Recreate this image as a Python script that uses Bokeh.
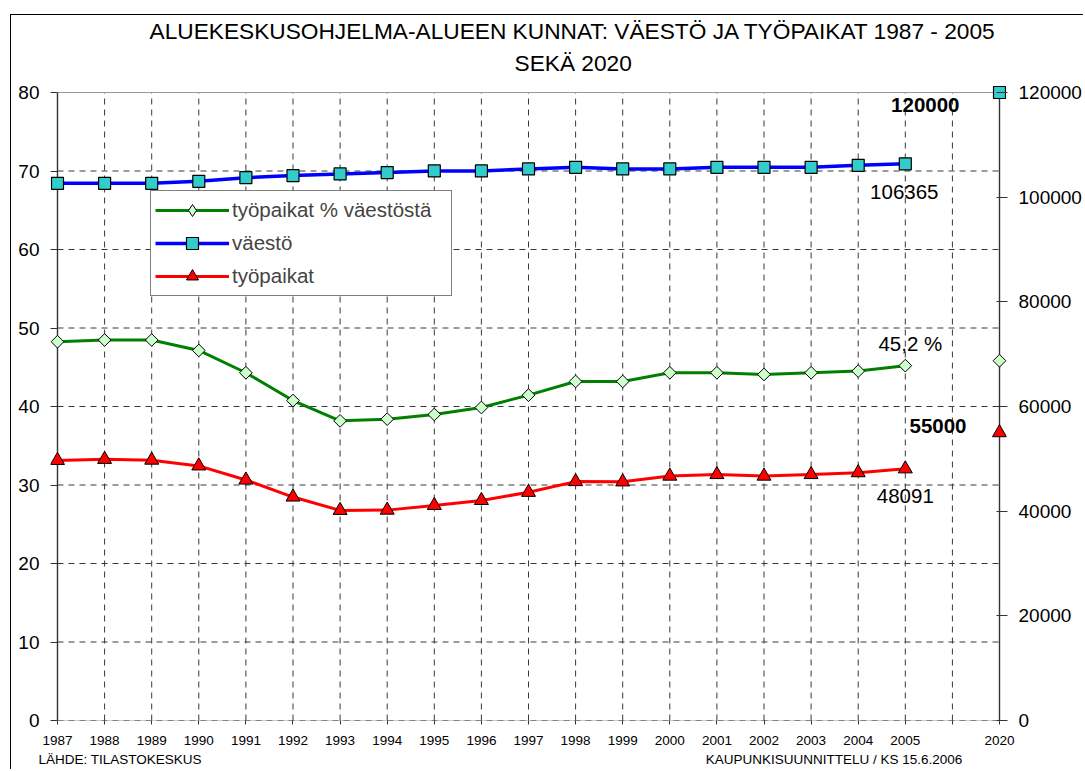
import numpy as np
from bokeh.plotting import figure
from bokeh.models import (Range1d, LinearAxis, FixedTicker, Legend, LegendItem,
                          NumeralTickFormatter, Title)
from bokeh.core.properties import value
from bokeh.embed import file_html
from bokeh.resources import INLINE

# ---------------- data ----------------
years = ["1987", "1988", "1989", "1990", "1991", "1992", "1993", "1994", "1995", "1996",
         "1997", "1998", "1999", "2000", "2001", "2002", "2003", "2004", "2005"]
target_year = "2020"

pop = [102650, 102650, 102650, 103030, 103730, 104120, 104440, 104690, 105020, 105020,
       105400, 105700, 105400, 105400, 105700, 105700, 105700, 106090, 106365]
jobs = [49700, 49900, 49750, 48650, 45950, 42700, 40150, 40200, 41100, 42050,
        43600, 45650, 45600, 46700, 47000, 46700, 47000, 47350, 48091]
jobs_pct = [48.25, 48.47, 48.47, 47.14, 44.3, 40.76, 38.17, 38.39, 38.98, 39.87,
            41.45, 43.19, 43.19, 44.3, 44.3, 44.08, 44.3, 44.51, 45.2]

pop_target = 120000
jobs_target = 55000
pct_target = 45.83

left_ticks = [0, 10, 20, 30, 40, 50, 60, 70, 80]
right_ticks = [0, 20000, 40000, 60000, 80000, 100000, 120000]

title_1 = "ALUEKESKUSOHJELMA-ALUEEN KUNNAT: VÄESTÖ JA TYÖPAIKAT 1987 - 2005"
title_2 = "SEKÄ 2020"
source_left = "LÄHDE: TILASTOKESKUS"
source_right = "KAUPUNKISUUNNITTELU / KS 15.6.2006"

legend_labels = ["työpaikat % väestöstä", "väestö", "työpaikat"]

# ---------------- layout ----------------
W, H = 1073, 755
FL, FR, FT, FB = 39, 996, 70, 705
PAD = 7
FONT = "Liberation Sans"

x_hist = list(range(len(years)))
x_target = len(years) + 1
n_slots = x_target
tick_pos = list(range(n_slots + 1))
tick_labels = years + [""] + [target_year]

ux = ((FR - FL) - 2 * PAD) / n_slots
x_pad = PAD / ux
uy = ((FB - FT) - PAD) / left_ticks[-1]
y_top = left_ticks[-1] + PAD / uy
ratio = right_ticks[-1] / left_ticks[-1]

p = figure(width=W, height=H, output_backend="svg", toolbar_location=None,
           x_range=Range1d(-x_pad, n_slots + x_pad), y_range=Range1d(0, y_top),
           min_border_left=FL, min_border_right=W - FR,
           min_border_top=FT, min_border_bottom=H - FB)
p.extra_y_ranges = {"right": Range1d(0, y_top * ratio)}
p.outline_line_color = None
p.background_fill_color = "white"
p.border_fill_color = "white"
p.xgrid.visible = False
p.ygrid.visible = False
p.styles = {"margin-left": "10px", "margin-top": "14px",
            "border-left": "1px solid black", "border-top": "1px solid black"}

AX_COL = "#333333"
GRID_COL = "#3a3a3a"
EDGE_COL = "#9a9a9a"

x_first, x_last = tick_pos[0], tick_pos[-1]
y_first, y_last = left_ticks[0], left_ticks[-1]

# base line (gray), gridlines (dashed), plot-area top border, axis lines
p.segment(x0=[x_first], y0=[y_first], x1=[x_last], y1=[y_first],
          line_color=EDGE_COL, line_width=1.2)
inner_x = tick_pos[1:-1]
p.segment(x0=inner_x, y0=[y_first] * len(inner_x), x1=inner_x, y1=[y_last] * len(inner_x),
          line_color=GRID_COL, line_width=1, line_dash="6 5")
grid_y = left_ticks[:-1]
p.segment(x0=[x_first] * len(grid_y), y0=grid_y, x1=[x_last] * len(grid_y), y1=grid_y,
          line_color=GRID_COL, line_width=1, line_dash="6 5")
p.segment(x0=[x_first], y0=[y_last], x1=[x_last], y1=[y_last],
          line_color=EDGE_COL, line_width=1.2)
p.segment(x0=[x_first, x_last], y0=[y_first] * 2, x1=[x_first, x_last], y1=[y_last] * 2,
          line_color=AX_COL, line_width=1.4)

# axes
yl = p.yaxis[0]
yl.ticker = FixedTicker(ticks=left_ticks)
yl.axis_line_color = None
yl.major_tick_in = PAD
yl.major_tick_out = 0
yl.minor_tick_line_color = None
yl.major_tick_line_color = AX_COL
yl.major_label_standoff = 11
yl.major_label_text_font = FONT
yl.major_label_text_font_size = "19px"
yl.major_label_text_color = "black"

yr = LinearAxis(y_range_name="right", ticker=FixedTicker(ticks=right_ticks),
                formatter=NumeralTickFormatter(format="0"))
yr.axis_line_color = None
yr.major_tick_in = 10
yr.major_tick_out = 1
yr.minor_tick_line_color = None
yr.major_tick_line_color = AX_COL
yr.major_label_standoff = 11
yr.major_label_text_font = FONT
yr.major_label_text_font_size = "19px"
yr.major_label_text_color = "black"
p.add_layout(yr, "right")

xa = p.xaxis[0]
xa.ticker = FixedTicker(ticks=tick_pos)
xa.major_label_overrides = {i: lab for i, lab in zip(tick_pos, tick_labels)}
xa.axis_line_color = None
xa.major_tick_in = 0
xa.major_tick_out = 4
xa.minor_tick_line_color = None
xa.major_tick_line_color = AX_COL
xa.major_label_standoff = 11
xa.major_label_text_font = FONT
xa.major_label_text_font_size = "13.5px"
xa.major_label_text_color = "black"

# footer line as an unadorned second axis below (source notes)
FOOT_SIZE = 13.5
foot_left_px = 38 + 0.5 * 12.115 * FOOT_SIZE       # text centre in page px
foot_right_px = 706 + 0.5 * 19.006 * FOOT_SIZE
x0_px = 11 + FL + PAD
foot_pos = [round((foot_left_px - x0_px) / ux, 3), round((foot_right_px - x0_px) / ux, 3)]
xf = LinearAxis(ticker=FixedTicker(ticks=foot_pos))
xf.major_label_overrides = {foot_pos[0]: source_left, foot_pos[1]: source_right}
xf.axis_line_color = None
xf.major_tick_line_color = None
xf.major_tick_in = 0
xf.major_tick_out = 0
xf.minor_tick_line_color = None
xf.major_label_standoff = 4
xf.major_label_text_font = FONT
xf.major_label_text_font_size = f"{FOOT_SIZE}px"
xf.major_label_text_color = "black"
p.add_layout(xf, "below")

# series
g_line = p.line(x_hist, jobs_pct, line_color="#008000", line_width=3)
g_pts = p.scatter(x_hist + [x_target], jobs_pct + [pct_target], marker="square",
                  angle=np.pi / 4, size=9, fill_color="#CCFFCC", line_color="black",
                  line_width=1)
b_line = p.line(x_hist, pop, line_color="#0000FF", line_width=3.5, y_range_name="right")
b_pts = p.scatter(x_hist + [x_target], pop + [pop_target], marker="square", size=12,
                  fill_color="#33CCCC", line_color="black", line_width=1.2,
                  y_range_name="right")
r_line = p.line(x_hist, jobs, line_color="#FF0000", line_width=3, y_range_name="right")
r_pts = p.scatter(x_hist + [x_target], jobs + [jobs_target], marker="triangle", size=14,
                  fill_color="#FF0000", line_color="black", line_width=1,
                  y_range_name="right")
# legend key for the diamond series (same style, shown only in the legend)
g_key = p.scatter(x=[np.nan], y=[np.nan], marker="diamond", size=14,
                  fill_color="#CCFFCC", line_color="black", line_width=1)


def txt(x, y, s, rng, align, xo, yo, bold=False):
    kw = dict(y_range_name=rng) if rng else {}
    p.text(x=[x], y=[y], text=[s], text_align=align, text_baseline="middle",
           x_offset=xo, y_offset=yo, text_font=value(FONT), text_font_size="20.5px",
           text_font_style="bold" if bold else "normal", text_color="black", **kw)


txt(x_target, pop_target, f"{pop_target}", "right", "right", -40, 12, True)
txt(x_hist[-1], pop[-1], f"{pop[-1]}", "right", "center", -1, 28)
txt(x_hist[-1], jobs_pct[-1], f"{jobs_pct[-1]:.1f} %".replace(".", ","), None, "center", 5, -22)
txt(x_target, jobs_target, f"{jobs_target}", "right", "right", -33, -7, True)
txt(x_hist[-1], jobs[-1], f"{jobs[-1]}", "right", "center", 0, 27)

# legend
legend = Legend(items=[LegendItem(label=legend_labels[0], renderers=[g_line, g_key]),
                       LegendItem(label=legend_labels[1], renderers=[b_line, b_pts]),
                       LegendItem(label=legend_labels[2], renderers=[r_line, r_pts])],
                location=(100, 424), orientation="vertical",
                border_line_color="black", border_line_width=1,
                background_fill_color="white", background_fill_alpha=1,
                label_text_font=FONT, label_text_font_size="20.5px",
                glyph_width=74, glyph_height=30, label_standoff=3,
                padding=4, spacing=3, label_width=215, margin=0)
p.add_layout(legend, "center")

# titles (first added sits nearest the plot)
p.add_layout(Title(text=title_2, align="left", offset=464, standoff=20,
                   text_font=FONT, text_font_size="22.7px", text_font_style="normal",
                   text_color="black"), "above")
p.add_layout(Title(text=title_1, align="left", offset=99, standoff=-12,
                   text_font=FONT, text_font_size="22.7px", text_font_style="normal",
                   text_color="black"), "above")

open("out.html", "w").write(file_html(p, INLINE))
